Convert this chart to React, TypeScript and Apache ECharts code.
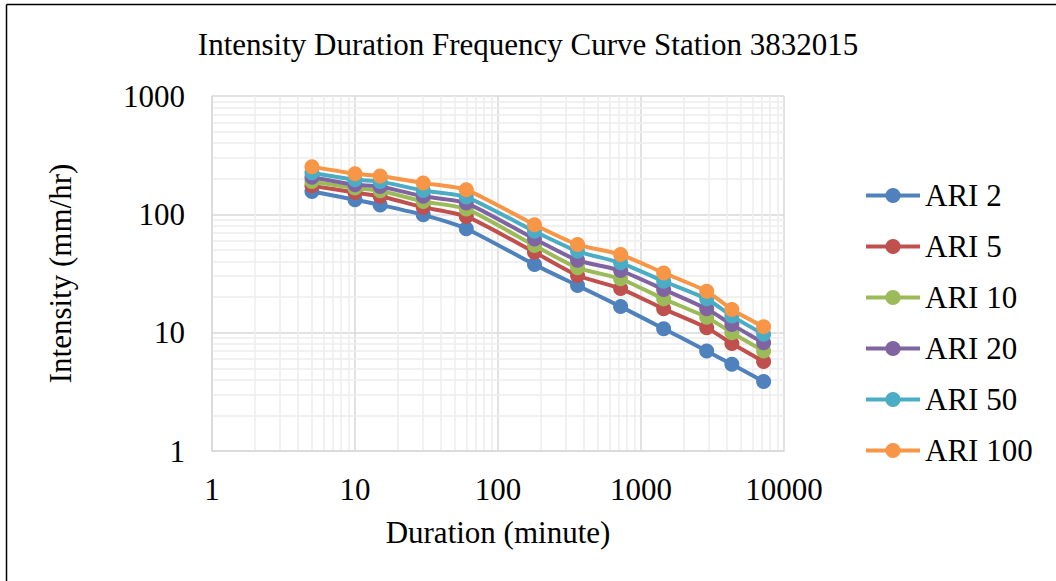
import React, { useEffect, useRef } from "react";
import * as echarts from "echarts";

const TITLE = "Intensity Duration Frequency Curve Station 3832015";
const X_NAME = "Duration (minute)";
const Y_NAME = "Intensity (mm/hr)";

const durations = [5, 10, 15, 30, 60, 180, 360, 720, 1440, 2880, 4320, 7200];
const seriesNames = ["ARI 2", "ARI 5", "ARI 10", "ARI 20", "ARI 50", "ARI 100"];
const ari2 = [156, 133, 120, 99, 75.6, 37.6, 25.0, 16.6, 10.8, 7.0, 5.4, 3.87];
const ari5 = [174, 153, 142, 115, 96, 47.8, 30.4, 23.6, 15.9, 11.0, 8.1, 5.7];
const ari10 = [189, 167, 158, 128.5, 111, 54.4, 35.3, 28.5, 19.3, 13.5, 10.0, 7.0];
const ari20 = [206, 178, 172, 142, 124.5, 61.9, 40.9, 33.5, 23.2, 15.9, 11.7, 8.2];
const ari50 = [225, 196, 189, 159, 140, 71.8, 48.7, 38.9, 27.2, 19.3, 13.8, 9.7];
const ari100 = [253, 220, 211, 183.6, 161, 81.7, 55.5, 45.7, 32.0, 22.4, 15.7, 11.2];
const seriesValues = [ari2, ari5, ari10, ari20, ari50, ari100];
const colors = ["#4F81BD", "#C0504D", "#9BBB59", "#8064A2", "#4BACC6", "#F79646"];

const xMin = 1;
const xMax = 10000;
const yMin = 1;
const yMax = 1000;

const FONT = "Liberation Serif";

function minorValues(min: number, max: number): number[] {
  const out: number[] = [];
  for (let d = min; d < max; d *= 10) {
    for (let k = 2; k <= 9; k++) out.push(k * d);
  }
  return out;
}

const plainLabel = (v: number) => String(Math.round(v));

export default function App() {
  const ref = useRef<HTMLDivElement>(null);
  useEffect(() => {
    if (!ref.current) return;
    const chart = echarts.init(ref.current, null, { renderer: "svg" });
    const minorX = minorValues(xMin, xMax);
    const minorY = minorValues(yMin, yMax);
    const gridLineSeries = {
      name: "__grid",
      type: "line",
      data: [[xMin, yMin]],
      showSymbol: false,
      symbolSize: 0,
      lineStyle: { opacity: 0 },
      silent: true,
      z: 0,
      markLine: {
        silent: true,
        symbol: "none",
        z: 0,
        label: { show: false },
        lineStyle: { color: "#ededed", width: 1.5, type: "solid" },
        emphasis: { disabled: true },
        data: [
          ...minorX.map((v) => ({ xAxis: v })),
          ...minorY.map((v) => ({ yAxis: v })),
        ],
      },
    };
    const dataSeries = seriesNames.map((name, i) => ({
      name,
      type: "line",
      data: durations.map((d, j) => [d, seriesValues[i][j]]),
      smooth: 0.2,
      symbol: "circle",
      symbolSize: 15,
      z: 3 + i,
      lineStyle: { width: 4, color: colors[i] },
      itemStyle: { color: colors[i] },
      color: colors[i],
    }));
    const labelStyle = { fontFamily: FONT, fontSize: 31, color: "#000" };
    chart.setOption({
      animation: false,
      backgroundColor: "#ffffff",
      textStyle: { fontFamily: FONT, fontSize: 31, color: "#000" },
      title: {
        text: TITLE,
        left: "center",
        top: 29,
        padding: 0,
        textStyle: { fontFamily: FONT, fontSize: 31, fontWeight: "normal", color: "#000" },
      },
      grid: { left: 212, top: 96, right: 272, bottom: 130, containLabel: false },
      legend: {
        orient: "vertical",
        left: 859,
        top: 175,
        itemWidth: 54,
        itemHeight: 19,
        itemGap: 20,
        data: seriesNames,
        lineStyle: { width: 4 },
        textStyle: { fontFamily: FONT, fontSize: 31, color: "#000" },
      },
      xAxis: {
        type: "log",
        logBase: 10,
        min: xMin,
        max: xMax,
        name: X_NAME,
        nameLocation: "middle",
        nameGap: 66,
        nameTextStyle: labelStyle,
        axisLine: { show: true, lineStyle: { color: "#d9d9d9", width: 1.5 } },
        axisTick: { show: false },
        axisLabel: { ...labelStyle, margin: 23, formatter: plainLabel },
        splitLine: { show: true, lineStyle: { color: "#d9d9d9", width: 1.5 } },
      },
      yAxis: {
        type: "log",
        logBase: 10,
        min: yMin,
        max: yMax,
        name: Y_NAME,
        nameLocation: "middle",
        nameGap: 136,
        nameTextStyle: labelStyle,
        axisLine: { show: true, lineStyle: { color: "#d9d9d9", width: 1.5 } },
        axisTick: { show: false },
        axisLabel: { ...labelStyle, margin: 27, formatter: plainLabel },
        splitLine: { show: true, lineStyle: { color: "#d9d9d9", width: 1.5 } },
      },
      graphic: [
        { type: "line", shape: { x1: 6.5, y1: 4.5, x2: 1056, y2: 4.5 }, style: { stroke: "#000", lineWidth: 1.5 }, silent: true },
        { type: "line", shape: { x1: 6.5, y1: 4.5, x2: 6.5, y2: 581 }, style: { stroke: "#000", lineWidth: 1.5 }, silent: true },
      ],
      series: [gridLineSeries, ...dataSeries],
    });
    return () => chart.dispose();
  }, []);
  return (
    <div
      ref={ref}
      style={{ position: "absolute", left: 0, top: 0, width: 1056, height: 581 }}
    />
  );
}
